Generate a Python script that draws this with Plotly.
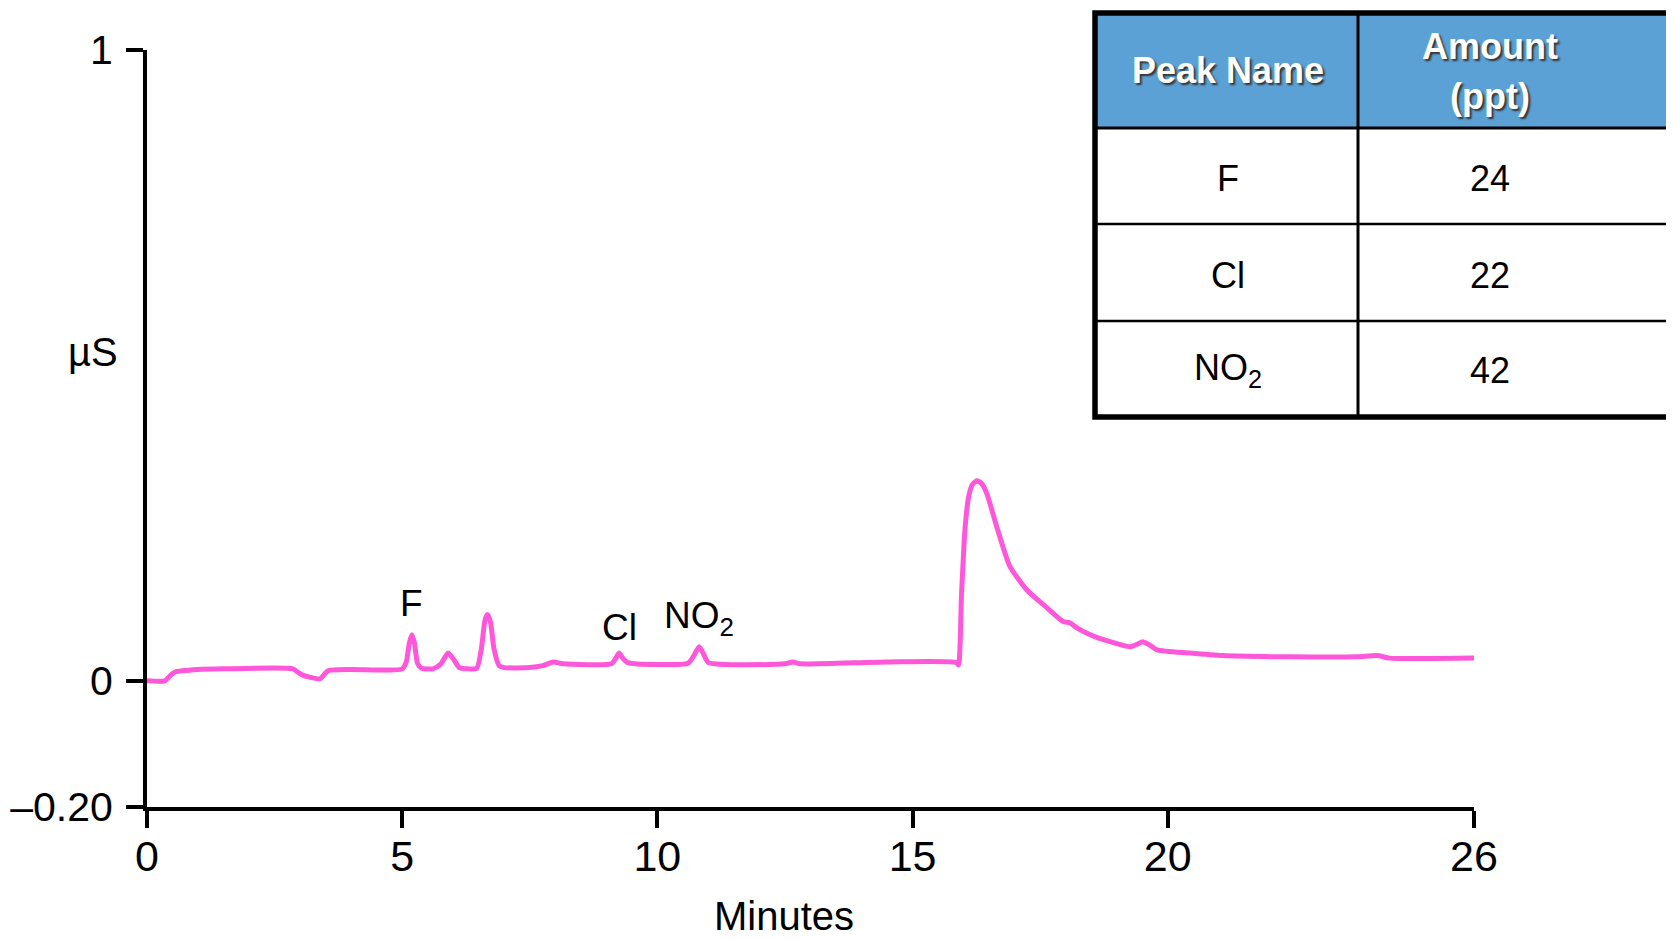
import plotly.graph_objects as go

# ---- data ----
time_min = [0.0, 0.35, 0.45, 0.55, 1.0, 1.5, 2.86, 2.95, 3.05, 3.39, 3.45, 3.55, 4.0, 5.0,
            5.08, 5.14, 5.19, 5.24, 5.30, 5.38, 5.6, 5.75, 5.9, 6.0, 6.12, 6.3, 6.46,
            6.55, 6.62, 6.67, 6.73, 6.8, 6.9, 7.0, 7.5, 7.75, 7.96, 8.15, 9.1, 9.18, 9.25,
            9.32, 9.42, 10.6, 10.7, 10.82, 10.92, 11.0, 12.5, 12.66, 12.8, 14.5, 15.86,
            15.9, 15.96, 16.03, 16.1, 16.17, 16.26, 16.35, 16.45, 16.65, 16.91, 17.24, 17.63,
            17.95, 18.08, 18.22, 18.48, 18.87, 19.26, 19.4, 19.51, 19.62, 19.79, 20.43,
            21.08, 22.39, 23.7, 24.1, 24.35, 26.0]
signal_uS = [0.0, 0.0, 0.008, 0.014, 0.018, 0.019, 0.019, 0.014, 0.009, 0.003, 0.008, 0.016,
             0.018, 0.019, 0.030, 0.060, 0.073, 0.060, 0.028, 0.020, 0.019, 0.026, 0.044,
             0.035, 0.021, 0.019, 0.020, 0.050, 0.095, 0.105, 0.093, 0.050, 0.024, 0.021,
             0.021, 0.024, 0.030, 0.027, 0.027, 0.035, 0.044, 0.036, 0.029, 0.028, 0.038,
             0.054, 0.040, 0.029, 0.027, 0.030, 0.027, 0.030, 0.029, 0.025, 0.139, 0.244,
             0.292, 0.311, 0.317, 0.313, 0.298, 0.244, 0.181, 0.144, 0.116, 0.094, 0.092, 0.084,
             0.073, 0.062, 0.054, 0.058, 0.062, 0.058, 0.049, 0.044, 0.040, 0.038, 0.038,
             0.040, 0.036, 0.036]

x_ticks = [0, 5, 10, 15, 20, 26]
x_tick_labels = ["0", "5", "10", "15", "20", "26"]
y_ticks = [-0.2, 0, 1]
y_tick_labels = ["\u20130.20", "0", "1"]

peak_labels = ["F", "Cl", "NO<sub>2</sub>"]
peak_times = [5.19, 9.25, 10.82]

table_header = ["Peak Name", "Amount", "(ppt)"]
table_names = ["F", "Cl", "NO<sub>2</sub>"]
table_amounts = ["24", "22", "42"]

# ---- layout helpers (page pixel coords; page body has an 8px margin) ----
OFF = 8
PAGE_W, PAGE_H = 1674, 939
W, H = PAGE_W - OFF, PAGE_H - OFF
L, R, T, B = 147 - OFF, 1474 - OFF, 50 - OFF, 807 - OFF
FONT = "Liberation Sans Narrow, Arial Narrow, Liberation Sans, Arial, sans-serif"
PINK = "#FF57DA"


def px(xp):
    return (xp - OFF - L) / (R - L)


def py(yp):
    return (B - (yp - OFF)) / (B - T)


fig = go.Figure()
fig.add_trace(go.Scatter(x=time_min, y=signal_uS, mode="lines",
                         line=dict(color=PINK, width=5, shape="spline", smoothing=0.6),
                         hoverinfo="skip"))

annotations = []
shapes = []

# peak labels
peak_label_y = [603, 627, 618]
for lab, tm, yy in zip(peak_labels, peak_times, peak_label_y):
    annotations.append(dict(x=tm, xref="x", y=py(yy), yref="paper", text=lab,
                            showarrow=False, xanchor="center", yanchor="middle",
                            font=dict(family=FONT, size=37, color="black")))

# axis titles
annotations.append(dict(x=px(784), y=py(916), xref="paper", yref="paper", text="Minutes",
                        showarrow=False, xanchor="center", yanchor="middle",
                        font=dict(family=FONT, size=40, color="black")))
annotations.append(dict(x=px(93), y=py(352), xref="paper", yref="paper", text="\u00b5S",
                        showarrow=False, xanchor="center", yanchor="middle",
                        font=dict(family=FONT, size=40, color="black")))

# table
tx0, tx1, tcol = 1095, 1700, 1358
ty_top, ty_head, ty_r1, ty_r2, ty_bot = 13, 128, 224, 321, 417
shapes.append(dict(type="rect", xref="paper", yref="paper", x0=px(tx0), x1=px(tx1),
                   y0=py(ty_head), y1=py(ty_top), fillcolor="#5BA1D6", line=dict(width=0),
                   layer="above"))
for yy, wdt in [(ty_head, 3), (ty_r1, 2.5), (ty_r2, 2.5)]:
    shapes.append(dict(type="line", xref="paper", yref="paper", x0=px(tx0), x1=px(tx1),
                       y0=py(yy), y1=py(yy), line=dict(color="black", width=wdt)))
shapes.append(dict(type="line", xref="paper", yref="paper", x0=px(tcol), x1=px(tcol),
                   y0=py(ty_top), y1=py(ty_bot), line=dict(color="black", width=3)))
shapes.append(dict(type="rect", xref="paper", yref="paper", x0=px(tx0), x1=px(tx1),
                   y0=py(ty_bot), y1=py(ty_top), line=dict(color="black", width=5.5)))

col1_x, col2_x = 1228, 1490
hdr_font = dict(family=FONT, size=36, color="white", weight="bold",
                shadow="2px 2px 2px #333333")
annotations.append(dict(x=px(col1_x), y=py(70), xref="paper", yref="paper",
                        text=table_header[0], showarrow=False, xanchor="center",
                        yanchor="middle", font=hdr_font))
annotations.append(dict(x=px(col2_x), y=py(47), xref="paper", yref="paper",
                        text=table_header[1], showarrow=False, xanchor="center",
                        yanchor="middle", font=hdr_font))
annotations.append(dict(x=px(col2_x), y=py(97), xref="paper", yref="paper",
                        text=table_header[2], showarrow=False, xanchor="center",
                        yanchor="middle", font=hdr_font))
row_y = [178, 275, 370]
for nm, am, yy in zip(table_names, table_amounts, row_y):
    annotations.append(dict(x=px(col1_x), y=py(yy), xref="paper", yref="paper", text=nm,
                            showarrow=False, xanchor="center", yanchor="middle",
                            font=dict(family=FONT, size=36, color="black")))
    annotations.append(dict(x=px(col2_x), y=py(yy), xref="paper", yref="paper", text=am,
                            showarrow=False, xanchor="center", yanchor="middle",
                            font=dict(family=FONT, size=36, color="black")))

axis_common = dict(showline=True, linecolor="black", linewidth=4, ticks="outside",
                   ticklen=17, tickwidth=4, tickcolor="black", showgrid=False,
                   zeroline=False, automargin=False)

fig.update_layout(
    width=W, height=H,
    margin=dict(l=L, r=W - R, t=T, b=H - B, autoexpand=False),
    paper_bgcolor="white", plot_bgcolor="white",
    showlegend=False,
    xaxis=dict(range=[0, 26], tickvals=x_ticks, ticktext=x_tick_labels,
               ticklabelstandoff=-9, tickfont=dict(family=FONT, size=43, color="black"),
               **axis_common),
    yaxis=dict(range=[-0.2, 1], tickvals=y_ticks, ticktext=y_tick_labels,
               ticklabelstandoff=5, tickfont=dict(family=FONT, size=41, color="black"),
               **axis_common),
    annotations=annotations,
    shapes=shapes,
)

fig.write_html("out.html")
